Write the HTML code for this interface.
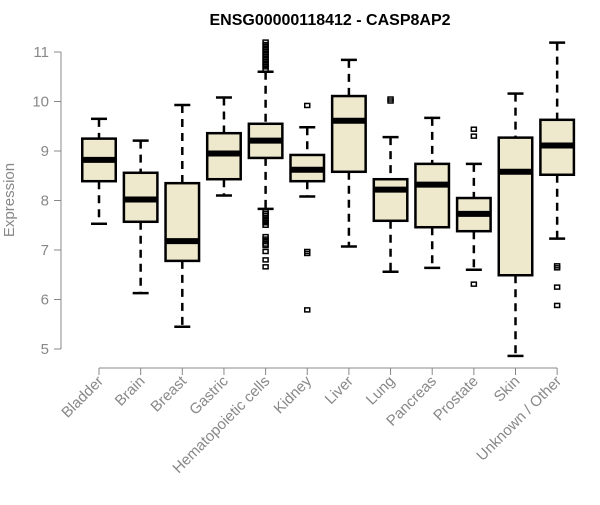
<!DOCTYPE html>
<html><head><meta charset="utf-8"><style>
body{margin:0;background:#fff;}
svg text{font-family:"Liberation Sans",Arial,sans-serif;}
</style></head><body>
<svg id="chart" width="600" height="500" xmlns="http://www.w3.org/2000/svg">
<text x="330" y="25" text-anchor="middle" font-weight="bold" font-size="16">ENSG00000118412 - CASP8AP2</text>
<text transform="translate(14,200) rotate(-90)" text-anchor="middle" font-size="15" fill="#888">Expression</text>
<g id="axes"></g><g id="boxes"></g>
</svg>
<script>
const categories=["Bladder","Brain","Breast","Gastric","Hematopoietic cells","Kidney","Liver","Lung","Pancreas","Prostate","Skin","Unknown / Other"];
const lowWhisker=[7.53,6.13,5.45,8.10,7.83,8.08,7.07,6.56,6.64,6.60,4.86,7.23];
const q1=[8.39,7.57,6.78,8.43,8.86,8.39,8.58,7.59,7.46,7.38,6.49,8.52];
const medians=[8.82,8.02,7.18,8.95,9.21,8.62,9.61,8.22,8.32,7.73,8.58,9.11];
const q3=[9.25,8.56,8.35,9.36,9.55,8.92,10.11,8.43,8.74,8.05,9.27,9.63];
const highWhisker=[9.65,9.21,9.93,10.08,10.6,9.48,10.84,9.28,9.67,8.74,10.16,11.19];
const outliers=[[],[],[],[],[10.65,10.7,10.75,10.8,10.85,10.9,10.95,11.0,11.05,11.1,11.15,11.2,7.78,7.74,7.7,7.65,7.6,7.55,7.5,7.27,7.22,7.17,7.12,7.09,6.97,6.8,6.66],[9.92,6.97,6.93,5.79],[],[10.01,10.05],[],[9.44,9.30,6.31],[],[6.68,6.64,6.25,5.88]];
const yTicks=[5,6,7,8,9,10,11];
const NS="http://www.w3.org/2000/svg";
const y=v=>349-(v-5)*49.5;
const x=i=>99+i*41.65;
const bw=33.5;
function mk(tag,attrs,parent){const e=document.createElementNS(NS,tag);for(const k in attrs)e.setAttribute(k,attrs[k]);parent.appendChild(e);return e;}
const ax=document.getElementById('axes'),bx=document.getElementById('boxes');
const yl=mk('line',{x1:61,x2:61,y1:y(5),y2:y(11),stroke:'#888','stroke-width':1},ax);


yTicks.forEach(t=>{
 mk('line',{x1:54,x2:61,y1:y(t),y2:y(t),stroke:'#888'},ax);
 const tx=mk('text',{x:49,y:y(t)+5,'text-anchor':'end','font-size':15,fill:'#888'},ax);
 tx.textContent=t;
 
 
});
const xl=mk('line',{x1:x(0),x2:x(11),y1:368,y2:368,stroke:'#888'},ax);


categories.forEach((c,i)=>{
 const cx=x(i);
 mk('line',{x1:cx,x2:cx,y1:368,y2:375,stroke:'#888'},ax);
 const tx=mk('text',{transform:`translate(${cx+5},${382}) rotate(-45)`,'text-anchor':'end','font-size':15,fill:'#888'},ax);
 tx.textContent=c;
 
 
 const g=mk('g',{},bx);
 
 
 mk('line',{x1:cx,x2:cx,y1:y(highWhisker[i]),y2:y(q3[i]),stroke:'#000','stroke-width':2.5,'stroke-dasharray':'8,6'},g);
 mk('line',{x1:cx,x2:cx,y1:y(q1[i]),y2:y(lowWhisker[i]),stroke:'#000','stroke-width':2.5,'stroke-dasharray':'8,6'},g);
 mk('line',{x1:cx-8,x2:cx+8,y1:y(highWhisker[i]),y2:y(highWhisker[i]),stroke:'#000','stroke-width':2.5},g);
 mk('line',{x1:cx-8,x2:cx+8,y1:y(lowWhisker[i]),y2:y(lowWhisker[i]),stroke:'#000','stroke-width':2.5},g);
 mk('rect',{x:cx-bw/2,y:y(q3[i]),width:bw,height:y(q1[i])-y(q3[i]),fill:'#EEE8CD',stroke:'#000','stroke-width':2.5},g);
 mk('line',{x1:cx-bw/2,x2:cx+bw/2,y1:y(medians[i]),y2:y(medians[i]),stroke:'#000','stroke-width':6},g);
 outliers[i].forEach(o=>{
  mk('rect',{x:cx-2.5,y:y(o)-2,width:5,height:4,fill:'none',stroke:'#000','stroke-width':1.5},g);
 });
});
</script>
</body></html>
